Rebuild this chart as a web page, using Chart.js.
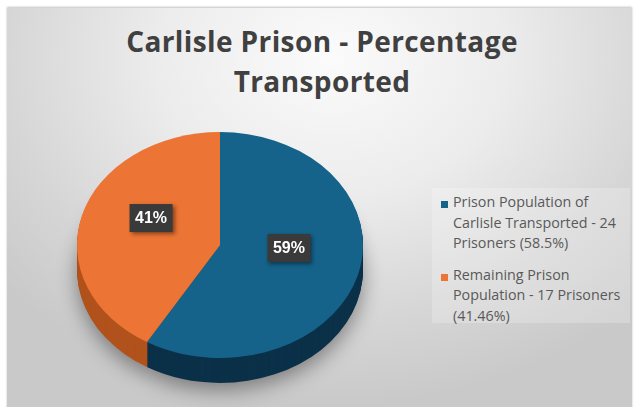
<!DOCTYPE html>
<html>
<head>
<meta charset="utf-8">
<script src="https://cdn.jsdelivr.net/npm/chart.js@4.4.1/dist/chart.umd.min.js"></script>
<style>
html, body { margin: 0; padding: 0; background: #fff; }
#wrap { position: relative; width: 639px; height: 407px; overflow: hidden; }
#panel {
    position: absolute; left: 7px; top: 8px; width: 625px; height: 410px;
    background: radial-gradient(ellipse 70% 85% at 52% 12%, #fbfbfb 0%, #ececec 40%, #d6d6d6 75%, #c9c9c9 100%);
    box-shadow: 0 -1px 2px rgba(0,0,0,0.25);
}
#titulo {
    position: absolute; left: 7px; width: 630px; top: 21px;
    text-align: center; font: 700 28px "Open Sans", sans-serif;
    letter-spacing: 0.4px; line-height: 40px; color: #404040;
}
#leyendaFondo {
    position: absolute; left: 432px; top: 188px; width: 198px; height: 135px;
    background: rgba(255,255,255,0.22);
}
#leyenda { position: absolute; left: 441px; top: 192px; }
.item { position: relative; padding-left: 12px; margin-bottom: 11px;
    font: 400 14.3px "Open Sans", sans-serif; line-height: 20.5px; color: #595959; white-space: nowrap; }
.item i { position: absolute; left: 0; top: 9px; width: 7px; height: 7px; }
canvas { position: absolute; left: 0; top: 0; }
</style>
</head>
<body>
<div id="wrap">
    <div id="panel"></div>
    <div id="titulo"></div>
    <div id="leyendaFondo"></div>
    <div id="leyenda"></div>
    <canvas id="graficoPie" width="639" height="407"></canvas>
</div>
<script>
// ================= DATOS =================
const tituloLineas = ["Carlisle Prison - Percentage", "Transported"];
const categorias = [
    "Prison Population of Carlisle Transported - 24 Prisoners (58.5%)",
    "Remaining Prison Population - 17 Prisoners (41.46%)"
];
const leyendaLineas = [
    ["Prison Population of", "Carlisle Transported - 24", "Prisoners (58.5%)"],
    ["Remaining Prison", "Population - 17 Prisoners", "(41.46%)"]
];
const prisioneros = [24, 17];

const coloresCara = ["#15628a", "#ec7434"];
const coloresLado = ["#0b3149", "#b1521c"];

// ================= 3D =================
const ESCALA_Y = 0.79;   // aplastado vertical de la cara
const PROFUNDIDAD = 25;  // grosor del lateral
const SUBIDA = 12;       // corrige la perspectiva de las etiquetas

function aplanar(ctx, cy, d) {
    ctx.translate(0, cy + d);
    ctx.scale(1, ESCALA_Y);
    ctx.translate(0, -cy);
}

const pie3d = {
    id: "pie3d",
    beforeDatasetDraw(chart, args) {
        const ctx = chart.ctx;
        const arcos = args.meta.data;
        const cy = arcos[0].y;

        for (let d = PROFUNDIDAD; d >= 1; d--) {
            ctx.save();
            aplanar(ctx, cy, d);
            if (d === PROFUNDIDAD) {
                ctx.shadowColor = "rgba(0,0,0,0.4)";
                ctx.shadowBlur = 20;
                ctx.shadowOffsetY = 7;
            }
            arcos.forEach((a, i) => {
                ctx.beginPath();
                ctx.moveTo(a.x, a.y);
                ctx.arc(a.x, a.y, a.outerRadius, a.startAngle, a.endAngle);
                ctx.closePath();
                ctx.fillStyle = coloresLado[i];
                ctx.fill();
            });
            ctx.restore();
        }

        ctx.save();
        aplanar(ctx, cy, 0);
    },
    afterDatasetDraw(chart) {
        chart.ctx.restore();
    },
    afterDatasetsDraw(chart) {
        const ctx = chart.ctx;
        const arcos = chart.getDatasetMeta(0).data;
        const total = prisioneros.reduce((a, b) => a + b, 0);
        const cy = arcos[0].y;

        arcos.forEach((a, i) => {
            const p = a.tooltipPosition();
            const x = p.x;
            const y = cy + (p.y - cy) * ESCALA_Y - SUBIDA;
            const texto = Math.round(prisioneros[i] / total * 100) + "%";

            ctx.save();
            ctx.font = "bold 16px 'Liberation Sans', Arial, sans-serif";
            const w = ctx.measureText(texto).width + 11;
            const h = 28;
            ctx.shadowColor = "rgba(0,0,0,0.45)";
            ctx.shadowBlur = 4;
            ctx.shadowOffsetX = 2;
            ctx.shadowOffsetY = 2;
            ctx.fillStyle = "#3a3a3a";
            ctx.fillRect(x - w / 2, y - h / 2, w, h);
            ctx.shadowColor = "transparent";
            ctx.fillStyle = "#ffffff";
            ctx.textAlign = "center";
            ctx.textBaseline = "middle";
            ctx.fillText(texto, x, y + 1);
            ctx.restore();
        });
    }
};

// ================= UI =================
document.getElementById("titulo").innerHTML = tituloLineas.join("<br>");

document.getElementById("leyenda").innerHTML = leyendaLineas.map((lineas, i) => `
    <div class="item"><i style="background:${coloresCara[i]}"></i>${lineas.join("<br>")}</div>
`).join("");

new Chart(document.getElementById("graficoPie"), {
    type: "pie",
    data: {
        labels: categorias,
        datasets: [{
            data: prisioneros,
            backgroundColor: coloresCara,
            borderWidth: 0,
            clip: false
        }]
    },
    options: {
        responsive: false,
        animation: false,
        events: [],
        layout: { padding: { left: 77, right: 276, top: 102, bottom: 19 } },
        plugins: {
            legend: { display: false },
            tooltip: { enabled: false },
            title: { display: false }
        }
    },
    plugins: [pie3d]
});
</script>
</body>
</html>
